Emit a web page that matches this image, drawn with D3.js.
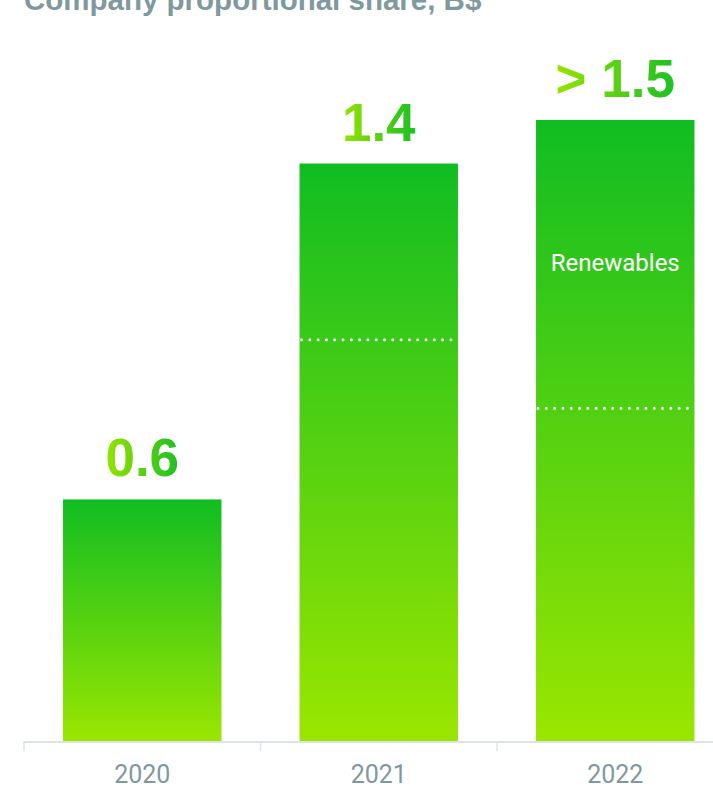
<!DOCTYPE html>
<html>
<head>
<meta charset="utf-8">
<script src="https://cdn.jsdelivr.net/npm/d3@7"></script>
<style>
  html, body { margin: 0; padding: 0; background: #fff; }
  svg { display: block; }
</style>
</head>
<body>
<svg id="chart"></svg>
<script>
// chart data
const years = ['2020', '2021', '2022'];
const totals = [0.585, 1.395, 1.5];
const valueLabels = ['0.6', '1.4', '> 1.5'];
const renewablesSplit = [null, 0.97, 0.805];
const segmentLabels = [null, null, 'Renewables'];

const width = 713;
const height = 787;
const baseY = 742;

const svg = d3.select('#chart')
  .attr('width', width)
  .attr('height', height);

const defs = svg.append('defs');

const barGrad = defs.append('linearGradient')
  .attr('id', 'barGrad')
  .attr('x1', 0).attr('y1', 0)
  .attr('x2', 0).attr('y2', 1);
barGrad.append('stop').attr('offset', '0%').attr('stop-color', '#10bd22');
barGrad.append('stop').attr('offset', '100%').attr('stop-color', '#9be600');

const textGrad = defs.append('linearGradient')
  .attr('id', 'textGrad')
  .attr('x1', 0).attr('y1', 0)
  .attr('x2', 1).attr('y2', 0);
textGrad.append('stop').attr('offset', '0%').attr('stop-color', '#97e300');
textGrad.append('stop').attr('offset', '100%').attr('stop-color', '#1cc024');

const x = d3.scaleBand()
  .domain(years)
  .range([24, 733.5])
  .paddingInner(0.33)
  .paddingOuter(0.165);

const y = d3.scaleLinear()
  .domain([0, 1.5])
  .range([baseY, 120]);

// title (cut off at the top, as in the source)
svg.append('text')
  .attr('x', 24)
  .attr('y', 10)
  .attr('font-family', 'Liberation Sans, Arial, sans-serif')
  .attr('font-weight', 'bold')
  .attr('font-size', 29.5)
  .attr('fill', '#80999f')
  .text('Company proportional share, B$');

// bars
svg.selectAll('rect.bar')
  .data(years)
  .enter().append('rect')
  .attr('class', 'bar')
  .attr('x', d => x(d))
  .attr('y', (d, i) => y(totals[i]))
  .attr('width', x.bandwidth())
  .attr('height', (d, i) => baseY - y(totals[i]))
  .attr('fill', 'url(#barGrad)');

// dotted split lines
const splits = years.map((d, i) => ({ year: d, v: renewablesSplit[i] }))
  .filter(d => d.v != null);

svg.selectAll('line.split')
  .data(splits)
  .enter().append('line')
  .attr('class', 'split')
  .attr('x1', d => x(d.year) + 2)
  .attr('x2', d => x(d.year) + x.bandwidth())
  .attr('y1', d => y(d.v))
  .attr('y2', d => y(d.v))
  .attr('stroke', '#fff')
  .attr('stroke-width', 3)
  .attr('stroke-linecap', 'round')
  .attr('stroke-dasharray', '0,8.3');

// segment labels
svg.selectAll('text.seg')
  .data(years.map((d, i) => ({ year: d, label: segmentLabels[i] })).filter(d => d.label))
  .enter().append('text')
  .attr('class', 'seg')
  .attr('x', d => x(d.year) + x.bandwidth() / 2)
  .attr('y', 271)
  .attr('text-anchor', 'middle')
  .attr('font-family', 'Roboto, sans-serif')
  .attr('font-size', 24)
  .attr('fill', '#fff')
  .text(d => d.label);

// value labels
svg.selectAll('text.val')
  .data(years)
  .enter().append('text')
  .attr('class', 'val')
  .attr('x', d => x(d) + x.bandwidth() / 2)
  .attr('y', (d, i) => y(totals[i]) - 23)
  .attr('text-anchor', 'middle')
  .attr('font-family', 'Liberation Sans, Arial, sans-serif')
  .attr('font-weight', 'bold')
  .attr('font-size', 53)
  .attr('fill', 'url(#textGrad)')
  .text((d, i) => valueLabels[i]);

// x axis
const axisG = svg.append('g');
axisG.append('line')
  .attr('x1', 24).attr('x2', width)
  .attr('y1', baseY).attr('y2', baseY)
  .attr('stroke', '#dce3e6')
  .attr('stroke-width', 2);

axisG.selectAll('line.tick')
  .data(years)
  .enter().append('line')
  .attr('class', 'tick')
  .attr('x1', d => x(d) - x.step() * x.paddingInner() / 2)
  .attr('x2', d => x(d) - x.step() * x.paddingInner() / 2)
  .attr('y1', baseY)
  .attr('y2', baseY + 9)
  .attr('stroke', '#dce3e6')
  .attr('stroke-width', 1.5);

axisG.selectAll('text.tick')
  .data(years)
  .enter().append('text')
  .attr('class', 'tick')
  .attr('x', d => x(d) + x.bandwidth() / 2)
  .attr('y', 783)
  .attr('text-anchor', 'middle')
  .attr('font-family', 'Roboto, sans-serif')
  .attr('font-size', 25)
  .attr('fill', '#80999f')
  .text(d => d);
</script>
</body>
</html>
